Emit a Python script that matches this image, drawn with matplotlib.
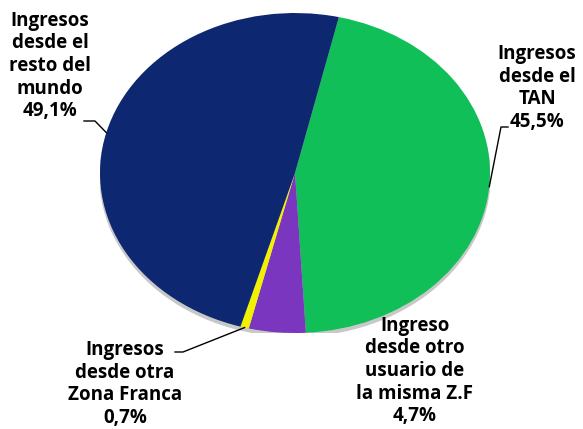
import numpy as np
import matplotlib
matplotlib.use("Agg")
import matplotlib.pyplot as plt
from matplotlib.lines import Line2D
from matplotlib.patches import Ellipse

labels = ["Ingresos\ndesde el\nTAN\n45,5%",
          "Ingreso\ndesde otro\nusuario de\nla misma Z.F\n4,7%",
          "Ingresos\ndesde otra\nZona Franca\n0,7%",
          "Ingresos\ndesde el\nresto del\nmundo\n49,1%"]
values = [45.5, 4.7, 0.7, 49.1]
colors = ["#10bf58", "#7a36be", "#f2f200", "#0d2870"]

W, H = 583, 429
fig = plt.figure(figsize=(W / 100, H / 100), dpi=100)
fig.patch.set_facecolor("white")

# pie placed as an ellipse (pixel box: x 100..490, y 13..333 from top)
ax = fig.add_axes([100 / W, (H - 333) / H, 390 / W, 320 / H])
ax.add_patch(Ellipse((0.0, -0.02), 2.0, 2.0, color="#c8c8c8", zorder=0))
wedges, _ = ax.pie(values, colors=colors, startangle=77, counterclock=False,
                   wedgeprops=dict(linewidth=0))
ax.set_aspect("auto")
ax.set_xlim(-1, 1)
ax.set_ylim(-1, 1)
ax.axis("off")

font = dict(family=["Open Sans", "DejaVu Sans"], fontweight="bold", fontsize=13.5,
            color="black", ha="center", va="center", linespacing=1.17)

# label centres in pixels (from top-left)
label_pos = [(537, 88), (415, 371), (125, 384), (50, 66)]
# leader line start and bend points (pixels from top-left); None = no leader
leaders = [((508, 127), (501, 127)), None, ((175, 352), (183, 352)),
           ((84, 121), (95, 121))]

for i, (lab, (px, py)) in enumerate(zip(labels, label_pos)):
    fig.text(px / W, 1 - py / H, lab, **font)

fig.canvas.draw()
for w, ld in zip(wedges, leaders):
    if ld is None:
        continue
    mid = np.deg2rad((w.theta1 + w.theta2) / 2)
    tx, ty = ax.transData.transform((np.cos(mid), np.sin(mid)))
    (x0, y0), (x1, y1) = ld
    fig.add_artist(Line2D([x0, x1, tx], [H - y0, H - y1, ty], transform=None,
                          color="black", linewidth=1.0))

fig.savefig("out.png", dpi=100)
